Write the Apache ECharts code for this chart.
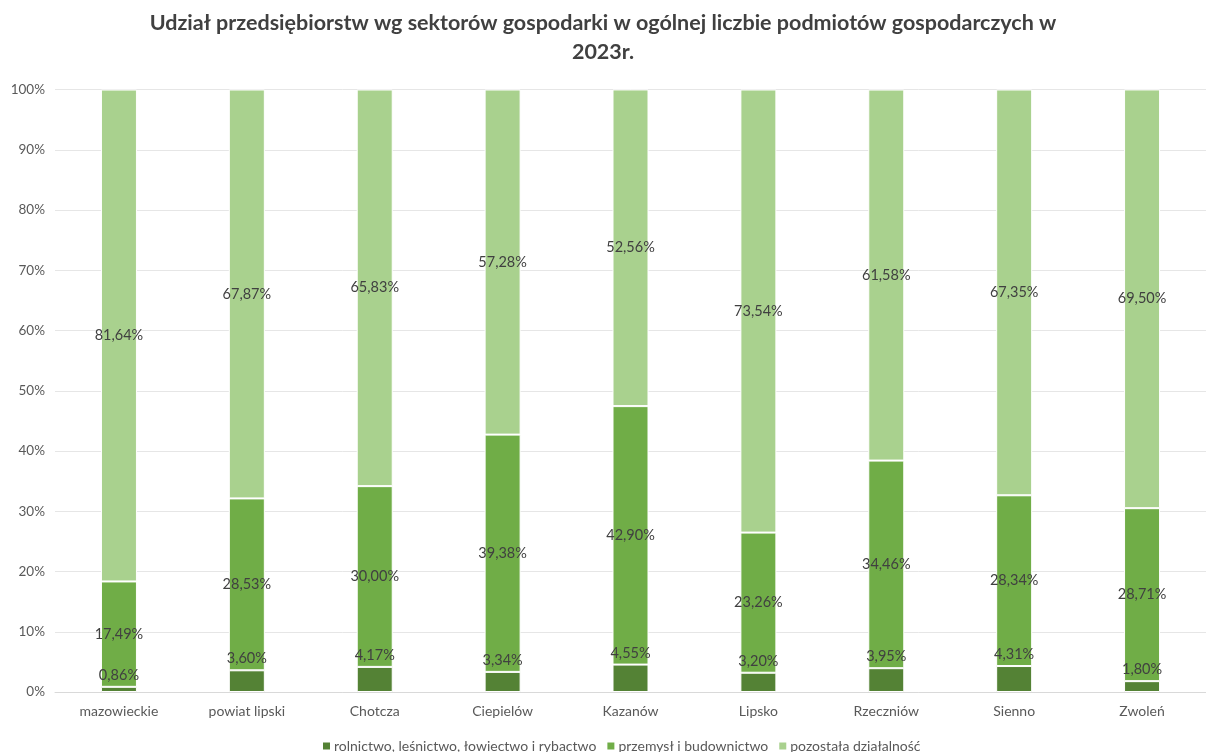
<!DOCTYPE html>
<html>
<head>
<meta charset="utf-8">
<script src="https://cdn.jsdelivr.net/npm/echarts@6/dist/echarts.min.js"></script>
<style>html,body{margin:0;padding:0;background:#fff}#c{width:1206px;height:752px}</style>
</head>
<body>
<div id="c"></div>
<script>
const categories = ['mazowieckie','powiat lipski','Chotcza','Ciepielów','Kazanów','Lipsko','Rzeczniów','Sienno','Zwoleń'];
const seriesNames = ['rolnictwo, leśnictwo, łowiectwo i rybactwo','przemysł i budownictwo','pozostała działalność'];
const rolnictwo = [0.86, 3.60, 4.17, 3.34, 4.55, 3.20, 3.95, 4.31, 1.80];
const przemysl = [17.49, 28.53, 30.00, 39.38, 42.90, 23.26, 34.46, 28.34, 28.71];
const pozostala = [81.64, 67.87, 65.83, 57.28, 52.56, 73.54, 61.58, 67.35, 69.50];
const titleText = 'Udział przedsiębiorstw wg sektorów gospodarki w ogólnej liczbie podmiotów gospodarczych w\n2023r.';

const FONT = 'Lato';
const fmt = p => p.value.toFixed(2).replace('.', ',') + '%';
const colors = ['#548235', '#70AD47', '#A9D18E'];
const values = [rolnictwo, przemysl, pozostala];

const chart = echarts.init(document.getElementById('c'), null, {renderer: 'canvas'});
chart.setOption({
  animation: false,
  textStyle: {fontFamily: FONT},
  title: {
    text: titleText,
    left: 'center',
    top: 4,
    textStyle: {fontFamily: FONT, fontSize: 21.5, fontWeight: 'bold', color: '#404040', lineHeight: 29}
  },
  legend: {
    top: 734,
    left: 316,
    itemWidth: 9,
    itemHeight: 9,
    itemGap: 9,
    icon: 'rect',
    textStyle: {fontFamily: FONT, fontSize: 14, color: '#595959', padding: [0, 0, 0, -2]},
    data: seriesNames
  },
  grid: {left: 55, top: 89.5, bottom: 60, width: 1162, containLabel: false},
  xAxis: {
    type: 'category',
    data: categories,
    axisLine: {lineStyle: {color: '#D9D9D9'}},
    axisTick: {show: false},
    axisLabel: {fontFamily: FONT, fontSize: 14, color: '#595959', margin: 12}
  },
  yAxis: {
    type: 'value',
    min: 0, max: 100, interval: 10,
    axisLabel: {formatter: '{value}%', fontFamily: FONT, fontSize: 13.5, color: '#595959', margin: 10},
    splitLine: {lineStyle: {color: '#E6E6E6', width: 1}},
    axisLine: {show: false},
    axisTick: {show: false}
  },
  series: seriesNames.map((n, i) => ({
    name: n,
    type: 'bar',
    stack: 'total',
    barWidth: 36,
    data: values[i],
    itemStyle: {color: colors[i], borderColor: '#ffffff', borderWidth: 1},
    label: {
      show: true,
      position: i === 0 ? 'top' : 'inside',
      distance: 4,
      formatter: fmt,
      fontFamily: FONT,
      fontSize: 14.5,
      color: '#404040'
    }
  }))
});
</script>
</body>
</html>
